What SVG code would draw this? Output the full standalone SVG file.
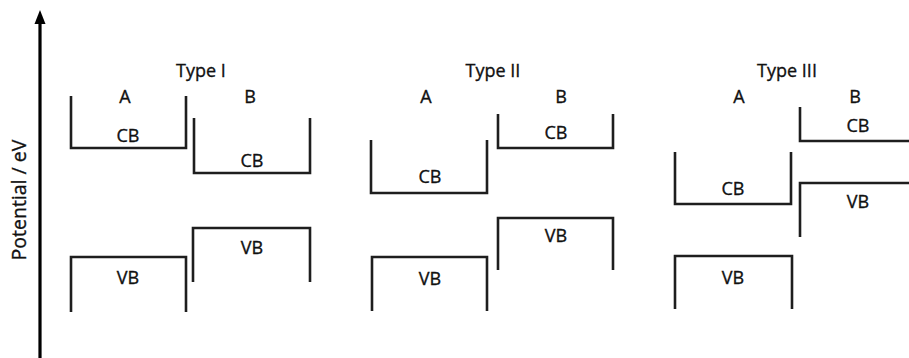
<svg xmlns="http://www.w3.org/2000/svg" width="909" height="358" viewBox="0 0 909 358">
<style>
.band{fill:none;stroke:#1e1e1e;stroke-width:2.6;stroke-linejoin:miter}
text{font-family:"Open Sans","Liberation Sans",sans-serif;font-size:18px;fill:#111;stroke:#111;stroke-width:0.35;text-anchor:middle}
.title{font-size:18px}
.axis{stroke:#000;stroke-width:3.2;fill:none}
</style>
<rect width="909" height="358" fill="#fff"/>
<g id="connectors">
<line class="axis" x1="40" y1="358" x2="40" y2="24"/>
<path d="M34.5,24 L40,10 L45.5,24 Z" fill="#000"/>
</g>
<g id="axis-label"><text transform="translate(25.5,200) rotate(-90)" style="font-size:19.5px">Potential / eV</text></g>

<g id="type1">
<text class="title" x="201" y="77">Type I</text>
<text x="125" y="103">A</text>
<text x="250" y="103">B</text>
<g id="t1-a-cb"><path class="band" d="M71,96 V148 H186 V96"/><text x="128" y="142">CB</text></g>
<g id="t1-b-cb"><path class="band" d="M194,118 V173 H310 V118"/><text x="252" y="167">CB</text></g>
<g id="t1-a-vb"><path class="band" d="M71,312 V257 H186 V312"/><text x="128" y="284">VB</text></g>
<g id="t1-b-vb"><path class="band" d="M193,282 V228 H310 V282"/><text x="252" y="254">VB</text></g>
</g>

<g id="type2">
<text class="title" x="493" y="77">Type II</text>
<text x="426" y="103">A</text>
<text x="561" y="103">B</text>
<g id="t2-a-cb"><path class="band" d="M371,140 V193 H487 V140"/><text x="430" y="183">CB</text></g>
<g id="t2-b-cb"><path class="band" d="M498,114 V148 H613 V114"/><text x="556" y="139">CB</text></g>
<g id="t2-a-vb"><path class="band" d="M372,311 V257 H487 V311"/><text x="430" y="285">VB</text></g>
<g id="t2-b-vb"><path class="band" d="M498,270 V218 H613 V270"/><text x="556" y="242">VB</text></g>
</g>

<g id="type3">
<text class="title" x="787" y="77">Type III</text>
<text x="739" y="103">A</text>
<text x="855" y="103">B</text>
<g id="t3-a-cb"><path class="band" d="M675,152 V204 H791 V152"/><text x="733" y="195">CB</text></g>
<g id="t3-b-cb"><path class="band" d="M800,107 V141 H909"/><text x="858" y="132">CB</text></g>
<g id="t3-a-vb"><path class="band" d="M675,309 V256 H792 V309"/><text x="733" y="284">VB</text></g>
<g id="t3-b-vb"><path class="band" d="M800,237 V183 H909"/><text x="858" y="208">VB</text></g>
</g>
</svg>
